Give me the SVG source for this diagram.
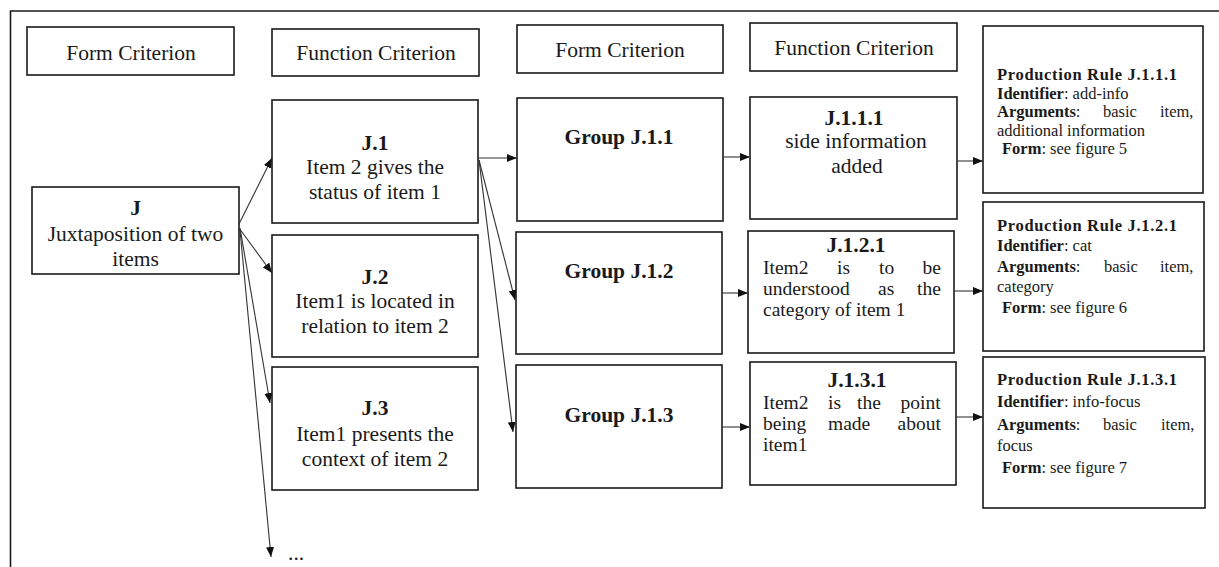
<svg xmlns="http://www.w3.org/2000/svg" width="1219" height="567" viewBox="0 0 1219 567">
<style>
  .box { fill: #fff; stroke: #1a1a1a; stroke-width: 1.6; }
  .frame { fill: none; stroke: #1a1a1a; stroke-width: 1.6; }
  .t { font-family: "Liberation Serif", "Times New Roman", serif; font-size: 21.5px; fill: #1a1a1a; }
  .n { font-family: "Liberation Serif", "Times New Roman", serif; font-size: 19.5px; fill: #1a1a1a; }
  .c { text-anchor: middle; }
  .b { font-weight: bold; }
  .s { font-family: "Liberation Serif", "Times New Roman", serif; font-size: 16.5px; fill: #1a1a1a; }
  .con { fill: none; stroke: #333; stroke-width: 1.1; marker-end: url(#ah); }
</style>
<defs>
  <marker id="ah" markerWidth="10" markerHeight="8" refX="10" refY="4" orient="auto" markerUnits="userSpaceOnUse">
    <path d="M0,0 L10,4 L0,8 z" fill="#111"/>
  </marker>
</defs>
<rect width="1219" height="567" fill="#fff"/>
<path class="frame" d="M10.5,567 V11 H1219"/>

<g id="hdr1"><rect class="box" x="27" y="27" width="207" height="48"/><text class="t c" x="131" y="60">Form Criterion</text></g>
<g id="hdr2"><rect class="box" x="272" y="29" width="207" height="47"/><text class="t c" x="376" y="60">Function Criterion</text></g>
<g id="hdr3"><rect class="box" x="517" y="25" width="206" height="48"/><text class="t c" x="620" y="57">Form Criterion</text></g>
<g id="hdr4"><rect class="box" x="750" y="23" width="207" height="48"/><text class="t c" x="854" y="55">Function Criterion</text></g>

<g id="J"><rect class="box" x="32" y="187" width="207" height="87"/>
  <text class="t c b" x="135.5" y="215">J</text>
  <text class="t c" x="135.5" y="241">Juxtaposition of two</text>
  <text class="t c" x="135.5" y="266">items</text></g>

<g id="J1"><rect class="box" x="272" y="100" width="206" height="123"/>
  <text class="t c b" x="375" y="150">J.1</text>
  <text class="t c" x="375" y="174">Item 2 gives the</text>
  <text class="t c" x="375" y="199">status of item 1</text></g>
<g id="J2"><rect class="box" x="272" y="235" width="206" height="122"/>
  <text class="t c b" x="375" y="284">J.2</text>
  <text class="t c" x="375" y="308">Item1 is located in</text>
  <text class="t c" x="375" y="333">relation to item 2</text></g>
<g id="J3"><rect class="box" x="272" y="367" width="206" height="123"/>
  <text class="t c b" x="375" y="415">J.3</text>
  <text class="t c" x="375" y="441">Item1 presents the</text>
  <text class="t c" x="375" y="466">context of item 2</text></g>
<g id="more"><text class="t" x="288" y="560">...</text></g>

<g id="G1"><rect class="box" x="517" y="98" width="206" height="123"/><text class="t c b" x="619" y="144">Group J.1.1</text></g>
<g id="G2"><rect class="box" x="516" y="232" width="206" height="122"/><text class="t c b" x="619" y="278">Group J.1.2</text></g>
<g id="G3"><rect class="box" x="516" y="365" width="206" height="123"/><text class="t c b" x="619" y="422">Group J.1.3</text></g>

<g id="F1"><rect class="box" x="750" y="97" width="207" height="122"/>
  <text class="t c b" x="854" y="125">J.1.1.1</text>
  <text class="t c" x="856" y="148">side information</text>
  <text class="t c" x="857" y="173">added</text></g>
<g id="F2"><rect class="box" x="748" y="231" width="206" height="122"/>
  <text class="t c b" x="856" y="252">J.1.2.1</text>
  <text class="n" y="274"><tspan x="763">Item2</tspan><tspan x="837">is</tspan><tspan x="879">to</tspan><tspan x="922.5">be</tspan></text>
  <text class="n" y="295"><tspan x="763">understood</tspan><tspan x="878">as</tspan><tspan x="917">the</tspan></text>
  <text class="n" x="763" y="316">category of item 1</text></g>
<g id="F3"><rect class="box" x="750" y="362" width="206" height="123"/>
  <text class="t c b" x="857" y="387">J.1.3.1</text>
  <text class="n" y="409"><tspan x="763">Item2</tspan><tspan x="828">is</tspan><tspan x="857">the</tspan><tspan x="900.5">point</tspan></text>
  <text class="n" y="430"><tspan x="763">being</tspan><tspan x="828">made</tspan><tspan x="897.5">about</tspan></text>
  <text class="n" x="763" y="451">item1</text></g>

<g id="PR1"><rect class="box" x="983" y="26" width="220" height="167"/>
  <text class="s b" x="997" y="80" textLength="180" lengthAdjust="spacing">Production Rule J.1.1.1</text>
  <text class="s" x="997" y="98.5"><tspan class="b">Identifier</tspan>: add-info</text>
  <text class="s" y="117"><tspan x="997" class="b">Arguments</tspan><tspan>:</tspan><tspan x="1103">basic</tspan><tspan x="1160">item,</tspan></text>
  <text class="s" x="997" y="135.5">additional information</text>
  <text class="s" x="1002" y="154"><tspan class="b">Form</tspan>: see figure 5</text></g>
<g id="PR2"><rect class="box" x="983" y="202" width="221" height="149"/>
  <text class="s b" x="997" y="231" textLength="180" lengthAdjust="spacing">Production Rule J.1.2.1</text>
  <text class="s" x="997" y="251"><tspan class="b">Identifier</tspan>: cat</text>
  <text class="s" y="272"><tspan x="997" class="b">Arguments</tspan><tspan>:</tspan><tspan x="1104">basic</tspan><tspan x="1160">item,</tspan></text>
  <text class="s" x="997" y="292">category</text>
  <text class="s" x="1002" y="313"><tspan class="b">Form</tspan>: see figure 6</text></g>
<g id="PR3"><rect class="box" x="983" y="357" width="222" height="151"/>
  <text class="s b" x="997" y="385" textLength="180" lengthAdjust="spacing">Production Rule J.1.3.1</text>
  <text class="s" x="997" y="407"><tspan class="b">Identifier</tspan>: info-focus</text>
  <text class="s" y="430"><tspan x="997" class="b">Arguments</tspan><tspan>:</tspan><tspan x="1103">basic</tspan><tspan x="1161">item,</tspan></text>
  <text class="s" x="997" y="451">focus</text>
  <text class="s" x="1002" y="473"><tspan class="b">Form</tspan>: see figure 7</text></g>

<g id="connectors">
  <path class="con" d="M239,224 L272,158"/>
  <path class="con" d="M239,228 L272,273"/>
  <path class="con" d="M240,228 L270,403"/>
  <path class="con" d="M240,230 L271,557"/>
  <path class="con" d="M478,158 L517,158"/>
  <path class="con" d="M479,160 L515,300"/>
  <path class="con" d="M479,160 L513,432"/>
  <path class="con" d="M723,157 L750,157"/>
  <path class="con" d="M722,293 L748,293"/>
  <path class="con" d="M722,427 L750,427"/>
  <path class="con" d="M957,161 L983,161"/>
  <path class="con" d="M954,291 L983,291"/>
  <path class="con" d="M956,417 L983,417"/>
</g>
</svg>
